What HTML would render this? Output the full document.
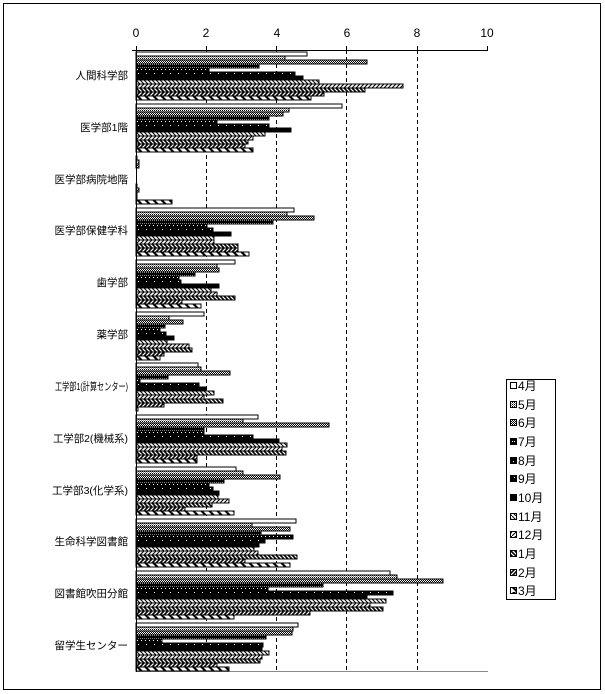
<!DOCTYPE html>
<html><head><meta charset="utf-8"><style>
body{margin:0;background:#fff;}
svg{display:block;font-family:"Liberation Sans","Noto Sans CJK JP",sans-serif;}
rect.b{stroke:#000;stroke-width:1;shape-rendering:crispEdges;height:4px;}
.m4{fill:#fff}.m5{fill:url(#p5)}.m6{fill:url(#p6)}.m7{fill:url(#p7)}.m8{fill:url(#p8)}.m9{fill:url(#p9)}
.m10{fill:#000}.m11{fill:url(#p11)}.m12{fill:url(#p12)}.m1{fill:url(#p1)}.m2{fill:url(#p2)}.m3{fill:url(#p3)}
.cl{font-size:10.5px;text-anchor:end}
.tk{font-size:12px;text-anchor:middle}
.lg{font-size:12px}
</style></head><body>
<svg width="605" height="694" viewBox="0 0 605 694" xmlns="http://www.w3.org/2000/svg">
<defs>
<pattern id="p5" width="2" height="2" patternUnits="userSpaceOnUse"><rect width="2" height="2" fill="#fff"/><rect width="1" height="1" fill="#000"/><rect x="1" y="1" width="1" height="1" fill="#888"/></pattern>
<pattern id="p6" width="2" height="2" patternUnits="userSpaceOnUse"><rect width="2" height="2" fill="#fff"/><rect width="1" height="1" fill="#000"/><rect x="1" y="1" width="1" height="1" fill="#000"/></pattern>
<pattern id="p7" width="2" height="3" patternUnits="userSpaceOnUse"><rect width="2" height="3" fill="#000"/><rect width="1" height="1" fill="#fff"/></pattern>
<pattern id="p8" width="4" height="4" patternUnits="userSpaceOnUse"><rect width="4" height="4" fill="#000"/><rect x="1" y="1" width="1" height="1" fill="#fff"/></pattern>
<pattern id="p9" width="8" height="4" patternUnits="userSpaceOnUse"><rect width="8" height="4" fill="#000"/><rect x="2" y="1" width="1" height="1" fill="#fff"/></pattern>
<pattern id="p11" width="4" height="4" patternUnits="userSpaceOnUse"><rect width="4" height="4" fill="#fff"/><path d="M0 0L4 4" stroke="#000" stroke-width="1"/></pattern>
<pattern id="p12" width="4" height="4" patternUnits="userSpaceOnUse"><rect width="4" height="4" fill="#fff"/><path d="M0 4L4 0" stroke="#000" stroke-width="1"/></pattern>
<pattern id="p1" width="4" height="4" patternUnits="userSpaceOnUse"><rect width="4" height="4" fill="#fff"/><path d="M0 0L4 4M-1 3L1 5M3 -1L5 1" stroke="#000" stroke-width="1.6"/></pattern>
<pattern id="p2" width="4" height="4" patternUnits="userSpaceOnUse"><rect width="4" height="4" fill="#fff"/><path d="M0 4L4 0M-1 1L1 -1M3 5L5 3" stroke="#000" stroke-width="1.6"/></pattern>
<pattern id="p3" width="8" height="4" patternUnits="userSpaceOnUse"><rect width="8" height="4" fill="#fff"/><path d="M0 0L4 4L7 4L3 0Z" fill="#000"/></pattern>
</defs>
<rect x="3.5" y="3.5" width="597" height="686" fill="#fff" stroke="#000"/>
<g class="tk"><text x="136" y="37">0</text><text x="206" y="37">2</text><text x="277" y="37">4</text><text x="347" y="37">6</text><text x="417" y="37">8</text><text x="487" y="37">10</text></g>
<g stroke="#000" stroke-dasharray="4,3" shape-rendering="crispEdges"><line x1="206.5" y1="50" x2="206.5" y2="671"/><line x1="276.5" y1="50" x2="276.5" y2="671"/><line x1="346.5" y1="50" x2="346.5" y2="671"/><line x1="417.5" y1="50" x2="417.5" y2="671"/></g>
<line x1="136" y1="50.5" x2="488" y2="50.5" stroke="#000"/>
<line x1="136" y1="671.5" x2="488" y2="671.5" stroke="#888"/>
<g stroke="#000"><line x1="132" y1="50.5" x2="136" y2="50.5"/><line x1="206.5" y1="46" x2="206.5" y2="50"/><line x1="276.5" y1="46" x2="276.5" y2="50"/><line x1="346.5" y1="46" x2="346.5" y2="50"/><line x1="417.5" y1="46" x2="417.5" y2="50"/><line x1="487.5" y1="46" x2="487.5" y2="50"/><line x1="136.5" y1="46" x2="136.5" y2="50"/></g>
<g class="cl">
<text x="128" y="79">人間科学部</text><text x="128" y="131">医学部1階</text><text x="128" y="183">医学部病院地階</text><text x="128" y="234">医学部保健学科</text><text x="128" y="286">歯学部</text><text x="128" y="338">薬学部</text><text x="55" y="390" style="text-anchor:start" textLength="73" lengthAdjust="spacingAndGlyphs">工学部1(計算センター)</text><text x="53" y="442" style="text-anchor:start" textLength="75" lengthAdjust="spacingAndGlyphs">工学部2(機械系)</text><text x="52" y="494" style="text-anchor:start" textLength="76" lengthAdjust="spacingAndGlyphs">工学部3(化学系)</text><text x="128" y="545">生命科学図書館</text><text x="128" y="597">図書館吹田分館</text><text x="128" y="649">留学生センター</text>
</g>
<g transform="translate(0,52)"><rect class="b m4" x="136" y="0" width="171"/><rect class="b m5" x="136" y="4" width="149"/><rect class="b m6" x="136" y="8" width="231"/><rect class="b m7" x="136" y="12" width="123"/><rect class="b m8" x="136" y="16" width="73"/><rect class="b m9" x="136" y="20" width="159"/><rect class="b m10" x="136" y="24" width="167"/><rect class="b m11" x="136" y="28" width="183"/><rect class="b m12" x="136" y="32" width="267"/><rect class="b m1" x="136" y="36" width="229"/><rect class="b m2" x="136" y="40" width="188"/><rect class="b m3" x="136" y="44" width="175"/></g>
<g transform="translate(0,104)"><rect class="b m4" x="136" y="0" width="206"/><rect class="b m5" x="136" y="4" width="153"/><rect class="b m6" x="136" y="8" width="147"/><rect class="b m7" x="136" y="12" width="133"/><rect class="b m8" x="136" y="16" width="81"/><rect class="b m9" x="136" y="20" width="133"/><rect class="b m10" x="136" y="24" width="155"/><rect class="b m11" x="136" y="28" width="129"/><rect class="b m12" x="136" y="32" width="117"/><rect class="b m1" x="136" y="36" width="112"/><rect class="b m2" x="136" y="40" width="109"/><rect class="b m3" x="136" y="44" width="117"/></g>
<g transform="translate(0,156)"><rect class="b m4" x="136" y="0" width="1"/><rect class="b m5" x="136" y="4" width="3"/><rect class="b m6" x="136" y="8" width="3"/><rect class="b m11" x="136" y="28" width="1"/><rect class="b m12" x="136" y="32" width="3"/><rect class="b m1" x="136" y="36" width="1"/><rect class="b m2" x="136" y="40" width="1"/><rect class="b m3" x="136" y="44" width="36"/></g>
<g transform="translate(0,208)"><rect class="b m4" x="136" y="0" width="158"/><rect class="b m5" x="136" y="4" width="151"/><rect class="b m6" x="136" y="8" width="178"/><rect class="b m7" x="136" y="12" width="137"/><rect class="b m8" x="136" y="16" width="71"/><rect class="b m9" x="136" y="20" width="77"/><rect class="b m10" x="136" y="24" width="95"/><rect class="b m11" x="136" y="28" width="78"/><rect class="b m12" x="136" y="32" width="78"/><rect class="b m1" x="136" y="36" width="102"/><rect class="b m2" x="136" y="40" width="102"/><rect class="b m3" x="136" y="44" width="113"/></g>
<g transform="translate(0,260)"><rect class="b m4" x="136" y="0" width="99"/><rect class="b m5" x="136" y="4" width="81"/><rect class="b m6" x="136" y="8" width="83"/><rect class="b m7" x="136" y="12" width="59"/><rect class="b m8" x="136" y="16" width="43"/><rect class="b m9" x="136" y="20" width="45"/><rect class="b m10" x="136" y="24" width="83"/><rect class="b m11" x="136" y="28" width="75"/><rect class="b m12" x="136" y="32" width="81"/><rect class="b m1" x="136" y="36" width="99"/><rect class="b m2" x="136" y="40" width="46"/><rect class="b m3" x="136" y="44" width="65"/></g>
<g transform="translate(0,312)"><rect class="b m4" x="136" y="0" width="68"/><rect class="b m5" x="136" y="4" width="33"/><rect class="b m6" x="136" y="8" width="47"/><rect class="b m7" x="136" y="12" width="29"/><rect class="b m8" x="136" y="16" width="24"/><rect class="b m9" x="136" y="20" width="30"/><rect class="b m10" x="136" y="24" width="38"/><rect class="b m11" x="136" y="28" width="31"/><rect class="b m12" x="136" y="32" width="53"/><rect class="b m1" x="136" y="36" width="56"/><rect class="b m2" x="136" y="40" width="28"/><rect class="b m3" x="136" y="44" width="24"/></g>
<g transform="translate(0,363)"><rect class="b m4" x="136" y="0" width="62"/><rect class="b m5" x="136" y="4" width="65"/><rect class="b m6" x="136" y="8" width="94"/><rect class="b m7" x="136" y="12" width="32"/><rect class="b m8" x="136" y="16" width="4"/><rect class="b m9" x="136" y="20" width="63"/><rect class="b m10" x="136" y="24" width="70"/><rect class="b m11" x="136" y="28" width="78"/><rect class="b m12" x="136" y="32" width="68"/><rect class="b m1" x="136" y="36" width="87"/><rect class="b m2" x="136" y="40" width="28"/><rect class="b m3" x="136" y="44" width="2"/></g>
<g transform="translate(0,415)"><rect class="b m4" x="136" y="0" width="122"/><rect class="b m5" x="136" y="4" width="107"/><rect class="b m6" x="136" y="8" width="193"/><rect class="b m7" x="136" y="12" width="68"/><rect class="b m8" x="136" y="16" width="68"/><rect class="b m9" x="136" y="20" width="117"/><rect class="b m10" x="136" y="24" width="143"/><rect class="b m11" x="136" y="28" width="151"/><rect class="b m12" x="136" y="32" width="146"/><rect class="b m1" x="136" y="36" width="150"/><rect class="b m2" x="136" y="40" width="61"/><rect class="b m3" x="136" y="44" width="61"/></g>
<g transform="translate(0,467)"><rect class="b m4" x="136" y="0" width="100"/><rect class="b m5" x="136" y="4" width="107"/><rect class="b m6" x="136" y="8" width="144"/><rect class="b m7" x="136" y="12" width="88"/><rect class="b m8" x="136" y="16" width="73"/><rect class="b m9" x="136" y="20" width="77"/><rect class="b m10" x="136" y="24" width="83"/><rect class="b m11" x="136" y="28" width="82"/><rect class="b m12" x="136" y="32" width="93"/><rect class="b m1" x="136" y="36" width="76"/><rect class="b m2" x="136" y="40" width="49"/><rect class="b m3" x="136" y="44" width="98"/></g>
<g transform="translate(0,519)"><rect class="b m4" x="136" y="0" width="160"/><rect class="b m5" x="136" y="4" width="116"/><rect class="b m6" x="136" y="8" width="154"/><rect class="b m7" x="136" y="12" width="125"/><rect class="b m8" x="136" y="16" width="157"/><rect class="b m9" x="136" y="20" width="129"/><rect class="b m10" x="136" y="24" width="123"/><rect class="b m11" x="136" y="28" width="118"/><rect class="b m12" x="136" y="32" width="122"/><rect class="b m1" x="136" y="36" width="161"/><rect class="b m2" x="136" y="40" width="109"/><rect class="b m3" x="136" y="44" width="154"/></g>
<g transform="translate(0,571)"><rect class="b m4" x="136" y="0" width="254"/><rect class="b m5" x="136" y="4" width="261"/><rect class="b m6" x="136" y="8" width="307"/><rect class="b m7" x="136" y="12" width="187"/><rect class="b m8" x="136" y="16" width="132"/><rect class="b m9" x="136" y="20" width="257"/><rect class="b m10" x="136" y="24" width="231"/><rect class="b m11" x="136" y="28" width="250"/><rect class="b m12" x="136" y="32" width="234"/><rect class="b m1" x="136" y="36" width="247"/><rect class="b m2" x="136" y="40" width="174"/><rect class="b m3" x="136" y="44" width="98"/></g>
<g transform="translate(0,623)"><rect class="b m4" x="136" y="0" width="162"/><rect class="b m5" x="136" y="4" width="157"/><rect class="b m6" x="136" y="8" width="156"/><rect class="b m7" x="136" y="12" width="130"/><rect class="b m8" x="136" y="16" width="26"/><rect class="b m9" x="136" y="20" width="127"/><rect class="b m10" x="136" y="24" width="126"/><rect class="b m11" x="136" y="28" width="133"/><rect class="b m12" x="136" y="32" width="126"/><rect class="b m1" x="136" y="36" width="124"/><rect class="b m2" x="136" y="40" width="81"/><rect class="b m3" x="136" y="44" width="93"/></g>
<line x1="136.5" y1="50" x2="136.5" y2="672" stroke="#000"/>
<rect x="506.5" y="379.5" width="49" height="220" fill="#fff" stroke="#000"/>
<g stroke="#000" shape-rendering="crispEdges">
<rect class="m4" x="510.5" y="382.5" width="6" height="6"/><rect class="m5" x="510.5" y="401.5" width="6" height="6"/><rect class="m6" x="510.5" y="419.5" width="6" height="6"/><rect class="m7" x="510.5" y="438.5" width="6" height="6"/><rect class="m8" x="510.5" y="457.5" width="6" height="6"/><rect class="m9" x="510.5" y="475.5" width="6" height="6"/><rect class="m10" x="510.5" y="494.5" width="6" height="6"/><rect class="m11" x="510.5" y="513.5" width="6" height="6"/><rect class="m12" x="510.5" y="531.5" width="6" height="6"/><rect class="m1" x="510.5" y="550.5" width="6" height="6"/><rect class="m2" x="510.5" y="569.5" width="6" height="6"/><rect class="m3" x="510.5" y="587.5" width="6" height="6"/>
</g>
<g class="lg">
<text x="518" y="390">4月</text><text x="518" y="409">5月</text><text x="518" y="427">6月</text><text x="518" y="446">7月</text><text x="518" y="465">8月</text><text x="518" y="483">9月</text><text x="518" y="502">10月</text><text x="518" y="521">11月</text><text x="518" y="539">12月</text><text x="518" y="558">1月</text><text x="518" y="577">2月</text><text x="518" y="595">3月</text>
</g>
</svg>
</body></html>
